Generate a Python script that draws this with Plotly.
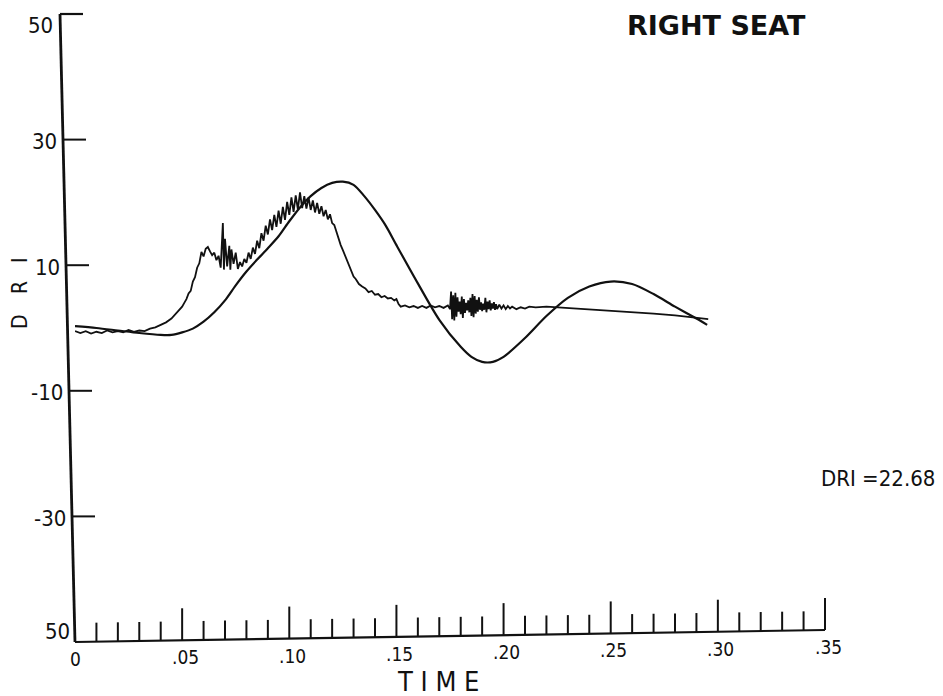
import plotly.graph_objects as go

# ---------------- data ----------------
# smooth DRI model response
dri_time = [0, 0.01, 0.02, 0.03, 0.04, 0.045, 0.05, 0.055, 0.06, 0.065, 0.07, 0.075, 0.08,
            0.085, 0.09, 0.095, 0.10, 0.105, 0.11, 0.115, 0.12, 0.125, 0.13, 0.135, 0.14,
            0.145, 0.15, 0.16, 0.17, 0.18, 0.185, 0.19, 0.195, 0.20, 0.21, 0.22, 0.23,
            0.24, 0.25, 0.26, 0.27, 0.28, 0.29, 0.295]
dri_value = [0.3, 0.0, -0.4, -0.8, -1.1, -1.1, -0.7, -0.1, 1.0, 2.5, 4.4, 6.8, 9.0,
             10.9, 12.7, 14.6, 17.0, 19.2, 21.0, 22.3, 23.1, 23.3, 22.8, 21.0, 18.8,
             16.3, 13.2, 7.1, 1.3, -3.0, -4.6, -5.4, -5.4, -4.6, -1.6, 1.9, 4.8,
             6.6, 7.4, 7.0, 5.4, 3.4, 1.5, 0.5]

# measured (noisy) input trace
acc_time = [
    0, 0.0025, 0.005, 0.0075, 0.01, 0.0125, 0.015, 0.0175, 0.02, 0.0225, 0.025, 0.0275,
    0.03, 0.0325, 0.035, 0.0375, 0.04, 0.0425, 0.045, 0.0475, 0.05,
    0.051, 0.052, 0.053, 0.054, 0.055, 0.056, 0.057, 0.058, 0.059, 0.060,
    0.061, 0.062, 0.063, 0.064, 0.065, 0.066, 0.067, 0.068, 0.069, 0.0695, 0.070,
    0.071, 0.072, 0.0725, 0.073, 0.074, 0.075, 0.076, 0.077, 0.078, 0.079, 0.080,
    0.081, 0.082, 0.083, 0.084, 0.085, 0.086, 0.087, 0.088, 0.089, 0.090,
    0.091, 0.092, 0.093, 0.094, 0.095, 0.096, 0.097, 0.098, 0.099, 0.100,
    0.101, 0.102, 0.103, 0.104, 0.105, 0.106, 0.107, 0.108, 0.109, 0.110,
    0.111, 0.112, 0.113, 0.114, 0.115, 0.116, 0.117, 0.118, 0.119, 0.120,
    0.121, 0.122, 0.123, 0.124, 0.125, 0.126, 0.127, 0.128, 0.129, 0.130,
    0.131, 0.1325, 0.134, 0.1355, 0.137, 0.1385, 0.140, 0.1415, 0.143, 0.1445, 0.146, 0.1475, 0.149, 0.150,
    0.151, 0.152, 0.154, 0.156, 0.158, 0.160, 0.162, 0.164, 0.166, 0.168, 0.170, 0.172, 0.174,
    0.175, 0.1755, 0.176, 0.1765, 0.177, 0.1775, 0.178, 0.1785, 0.179, 0.1795, 0.180,
    0.1805, 0.181, 0.1815, 0.182, 0.1825, 0.183, 0.1835, 0.184, 0.1845, 0.185,
    0.1855, 0.186, 0.1865, 0.187, 0.1875, 0.188, 0.1885, 0.189, 0.1895, 0.190,
    0.1905, 0.191, 0.1915, 0.192, 0.1925, 0.193, 0.1935, 0.194, 0.1945, 0.195,
    0.1955, 0.196, 0.1965, 0.197, 0.198, 0.199, 0.200, 0.201, 0.202, 0.203, 0.204, 0.206, 0.208, 0.210, 0.212, 0.215,
    0.220, 0.225, 0.230, 0.240, 0.250, 0.260, 0.270, 0.280, 0.290, 0.2955]
acc_value = [
    -0.5, -0.8, -0.5, -0.9, -0.6, -0.8, -0.4, -0.7, -0.5, -0.7, -0.3, -0.6,
    -0.4, -0.5, -0.1, 0.1, 0.5, 0.9, 1.5, 2.4, 3.4,
    4.0, 4.6, 5.5, 5.9, 7.4, 8.1, 9.6, 10.3, 12.1, 11.4,
    12.6, 12.9, 12.2, 11.6, 12.0, 10.8, 11.5, 9.6, 16.7, 9.3, 14.2,
    9.8, 13.1, 9.3, 12.5, 10.2, 12.0, 9.4, 10.5, 9.8, 11.0, 10.4,
    12.0, 11.0, 12.8, 11.8, 13.9, 12.7, 15.1, 13.9, 16.3, 14.9,
    17.3, 15.6, 18.0, 16.1, 18.7, 16.6, 19.3, 17.2, 20.1, 18.0,
    20.8, 18.5, 21.1, 18.9, 21.6, 19.1, 21.0, 19.0, 20.8, 18.8,
    20.3, 18.4, 19.9, 18.2, 19.4, 17.8, 18.8, 17.3, 18.1, 16.7,
    16.4, 15.3, 14.0, 13.2, 12.4, 11.6, 10.6, 9.8, 9.0, 8.2,
    7.8, 7.0, 6.6, 6.3, 5.7, 5.9, 5.3, 5.4, 4.9, 5.1, 4.7, 4.8, 4.4, 4.6,
    3.8, 3.4, 3.6, 3.3, 3.5, 3.2, 3.5, 3.2, 3.6, 3.3, 3.5, 3.2, 3.6,
    3.0, 5.8, 1.4, 5.2, 1.2, 5.6, 1.8, 4.9, 2.6, 4.2, 2.2,
    5.0, 1.6, 4.6, 2.4, 4.0, 2.8, 4.4, 2.5, 4.8, 1.9,
    5.4, 1.7, 5.1, 2.3, 4.5, 2.6, 4.9, 2.9, 4.1, 2.7,
    3.9, 2.9, 4.8, 2.5, 4.2, 3.0, 4.4, 2.8, 3.9, 3.1,
    4.1, 2.9, 3.8, 3.0, 3.7, 3.1, 3.6, 3.0, 3.5, 3.1, 3.4, 3.0, 3.3, 3.1, 3.4, 3.3,
    3.4, 3.3, 3.2, 3.0, 2.8, 2.5, 2.3, 2.0, 1.6, 1.4]
assert len(acc_time) == len(acc_value), (len(acc_time), len(acc_value))

y_tick_values = [30, 10, -10, -30]
y_tick_labels = ["30", "10", "-10", "-30"]
y_end_labels = ["50", "50"]          # top and bottom corner labels
x_major_values = [0.05, 0.10, 0.15, 0.20, 0.25, 0.30, 0.35]
x_label_values = [0, 0.05, 0.10, 0.15, 0.20, 0.25, 0.30, 0.35]
x_tick_labels = ["0", ".05", ".10", ".15", ".20", ".25", ".30", ".35"]
x_minor_step = 0.01
title_text = "RIGHT SEAT"
dri_text = "DRI =22.68"
x_title = "T I M E"
y_title_letters = ["D", "R", "I"]

# ---------------- geometry ----------------
W, H = 943, 696
OFF = 8                      # page body margin of the HTML page
ML, MT = 75, 14              # plot area top-left in window pixels
PW, PH = 750, 628
XMAX = 0.35
COND = "DejaVu Sans Condensed, Liberation Sans Narrow, DejaVu Sans, sans-serif"


def px_t(t):
    return ML + t / XMAX * PW


def py_v(v):
    return MT + (50 - v) / 100 * PH


def xp(px):
    return (px - ML) / PW


def yp(py):
    return (MT + PH - py) / PH


# slight skew of the scanned axes
def left_x(py):
    return 60 + (py - 14) * 15 / 628


def bottom_y(px):
    return 642 - (px - 75) * 12 / 750


fig = go.Figure()
fig.add_trace(go.Scatter(x=dri_time, y=dri_value, mode="lines",
                         line=dict(color="#111", width=2.2, shape="spline", smoothing=0.8),
                         hoverinfo="skip", showlegend=False))
fig.add_trace(go.Scatter(x=acc_time, y=acc_value, mode="lines",
                         line=dict(color="#111", width=1.8),
                         hoverinfo="skip", showlegend=False))

shapes = []


def seg(x0, y0, x1, y1, w=2.0):
    shapes.append(dict(type="line", xref="paper", yref="paper",
                       x0=xp(x0), y0=yp(y0), x1=xp(x1), y1=yp(y1),
                       line=dict(color="#111", width=w)))


# axes
seg(60, 14, 75, 642, 2.8)
seg(75, 642, 825, 630, 2.2)
seg(60, 14, 83, 14, 2.2)
for v in y_tick_values:
    y = py_v(v)
    x0 = left_x(y)
    seg(x0, y, x0 + 23, y, 2.0)
n_minor = int(round(XMAX / x_minor_step))
major_set = {round(v, 3) for v in x_major_values}
for k in range(1, n_minor + 1):
    t = round(k * x_minor_step, 3)
    x = px_t(t)
    y0 = bottom_y(x)
    length = 32 if t in major_set else 19
    seg(x, y0, x, y0 - length, 2.0)

ann = []


def text(x, y, s, size, xanchor="center", yanchor="middle", family=COND, angle=0):
    ann.append(dict(xref="paper", yref="paper", x=xp(x), y=yp(y), text=s,
                    showarrow=False, xanchor=xanchor, yanchor=yanchor, textangle=angle,
                    font=dict(family=family, size=size, color="#111"), borderpad=0))


for v, lab in zip(y_tick_values, y_tick_labels):
    y = py_v(v)
    text(left_x(y) - 5, y + 2, lab, 22, xanchor="right")
text(left_x(25) - 6, 25, y_end_labels[0], 22, xanchor="right")
text(left_x(631) - 4, 631, y_end_labels[1], 22, xanchor="right")

for t, lab in zip(x_label_values, x_tick_labels):
    x = px_t(t) + (0.5 if t == 0 else 3)
    text(x, bottom_y(x) + 17, lab, 19)

text(438, 681, x_title, 27)
for yy, letter in zip([322, 288, 260], y_title_letters):
    text(20, yy, letter, 21, angle=-90)

text(716, 25, "<b>" + title_text + "</b>", 27, family="DejaVu Sans, Arial, sans-serif")
text(820, 478, dri_text, 22, xanchor="left")

fig.update_layout(
    width=W - OFF, height=H - OFF,
    margin=dict(l=ML - OFF, r=W - ML - PW, t=MT - OFF, b=H - MT - PH, pad=0),
    paper_bgcolor="white", plot_bgcolor="white",
    xaxis=dict(range=[0, XMAX], visible=False, fixedrange=True),
    yaxis=dict(range=[-50, 50], visible=False, fixedrange=True),
    shapes=shapes, annotations=ann, showlegend=False,
)
fig.write_html("out.html")
